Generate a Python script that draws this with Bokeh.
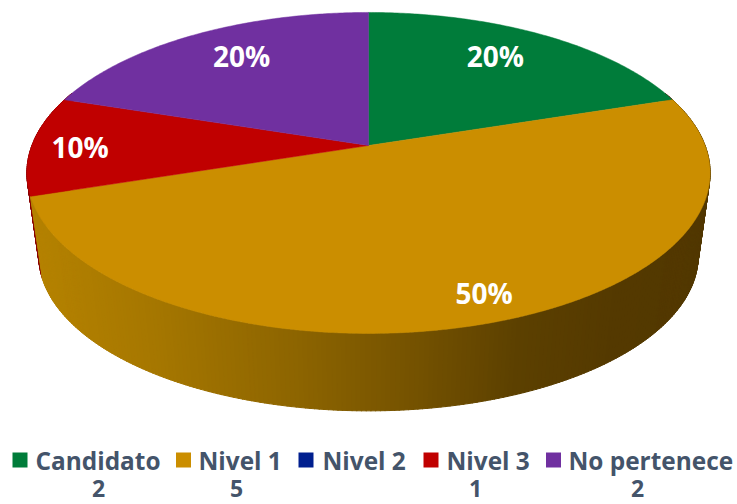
import math
from bokeh.plotting import figure
from bokeh.embed import file_html
from bokeh.resources import INLINE
from bokeh.core.properties import value

categories = ["Candidato", "Nivel 1", "Nivel 2", "Nivel 3", "No pertenece"]
counts = [2, 5, 0, 1, 2]
count_labels = ["2", "5", "", "1", "2"]

TOP = ["#007c3a", "#cb8e00", "#001f8f", "#c00000", "#7030a0"]
SIDE_RED = "#8a0000"
SIDE_STOPS = [(30, (181, 130, 0)), (150, (166, 119, 0)), (300, (140, 100, 0)),
              (420, (115, 81, 0)), (520, (92, 64, 0)), (620, (84, 57, 0)), (710, (82, 56, 0))]
LABEL_R = [0.765, 0.865, 0, 0.855, 0.765]
LABEL_DA = [-0.05, -0.035, 0, -0.012, 0.05]
LEG_SWATCH = [19.5, 183, 305.5, 430.5, 553]
LEG_TEXT = [35, 198, 322, 446, 568]
LEG_COUNT = [98, 236, 0, 475, 637]

CX, CY, A, C, K = 368.0, 145.0, 155.8, 336.6, 0.171
S, DY = 0.965, 84.0


def proj(theta, r=1.0, scale=1.0, dy=0.0):
    X, Y = r * math.sin(theta), r * math.cos(theta)
    w = 1 + K * Y
    return CX + scale * C * X / w, CY + dy - scale * A * Y / w


def side_color(x, idx):
    if idx != 1:
        return SIDE_RED
    for (x0, c0), (x1, c1) in zip(SIDE_STOPS, SIDE_STOPS[1:]):
        if x <= x1:
            t = max(0.0, (x - x0) / (x1 - x0))
            return "#%02x%02x%02x" % tuple(round(a + (b - a) * t) for a, b in zip(c0, c1))
    return "#523800"


total = sum(counts)
p = figure(width=737, height=504, x_range=(0, 737), y_range=(504, 0),
           toolbar_location=None, output_backend="svg", min_border=0,
           outline_line_color=None, background_fill_color="white", border_fill_color="white")
p.axis.visible = False
p.grid.visible = False

# side wall
strips = []
start = 0.0
spans = []
for i, v in enumerate(counts):
    end = start + v / total * 2 * math.pi
    spans.append((start, end))
    n = max(1, int((end - start) / 0.012))
    for j in range(n if v else 0):
        a0 = start + (end - start) * j / n
        a1 = start + (end - start) * (j + 1) / n + 0.002
        if math.cos((a0 + a1) / 2) < 0.35:
            strips.append((math.cos((a0 + a1) / 2), a0, a1, i))
    start = end
strips.sort(key=lambda s: -s[0])
xs, ys, cols = [], [], []
for _, a0, a1, i in strips:
    t0, t1 = proj(a0), proj(a1)
    b1, b0 = proj(a1, scale=S, dy=DY), proj(a0, scale=S, dy=DY)
    xs.append([t0[0], t1[0], b1[0], b0[0]])
    ys.append([t0[1], t1[1], b1[1], b0[1]])
    cols.append(side_color((t0[0] + t1[0]) / 2, i))
p.patches(xs, ys, fill_color=cols, line_color=cols, line_width=1)

# top face
for i, (a0, a1) in enumerate(spans):
    if counts[i] == 0:
        continue
    n = max(2, int((a1 - a0) / 0.01))
    pts = [proj(a0 + (a1 - a0) * j / n) for j in range(n + 1)]
    px = [CX] + [q[0] for q in pts]
    py = [CY] + [q[1] for q in pts]
    p.patch(px, py, fill_color=TOP[i], line_color=TOP[i], line_width=0.5)

# percentage labels
for i, (a0, a1) in enumerate(spans):
    if counts[i] == 0:
        continue
    lx, ly = proj((a0 + a1) / 2 + LABEL_DA[i], r=LABEL_R[i])
    p.text([lx], [ly], text=[f"{round(counts[i] / total * 100)}%"], text_color="white",
           text_font=value("Open Sans"), text_font_style="bold", text_font_size="28px",
           text_align="center", text_baseline="middle")

# legend
for i, name in enumerate(categories):
    p.scatter([LEG_SWATCH[i]], [459.5], marker="square", size=15, fill_color=TOP[i], line_color=None)
    p.text([LEG_TEXT[i]], [460], text=[name], text_color="#44546a",
           text_font=value("Open Sans"), text_font_style="bold", text_font_size="24.4px",
           text_align="left", text_baseline="middle")
    if count_labels[i]:
        p.text([LEG_COUNT[i]], [487.5], text=[count_labels[i]], text_color="#44546a",
               text_font=value("Open Sans"), text_font_style="bold", text_font_size="23px",
               text_align="center", text_baseline="middle")

open("out.html", "w").write(file_html(p, INLINE))
